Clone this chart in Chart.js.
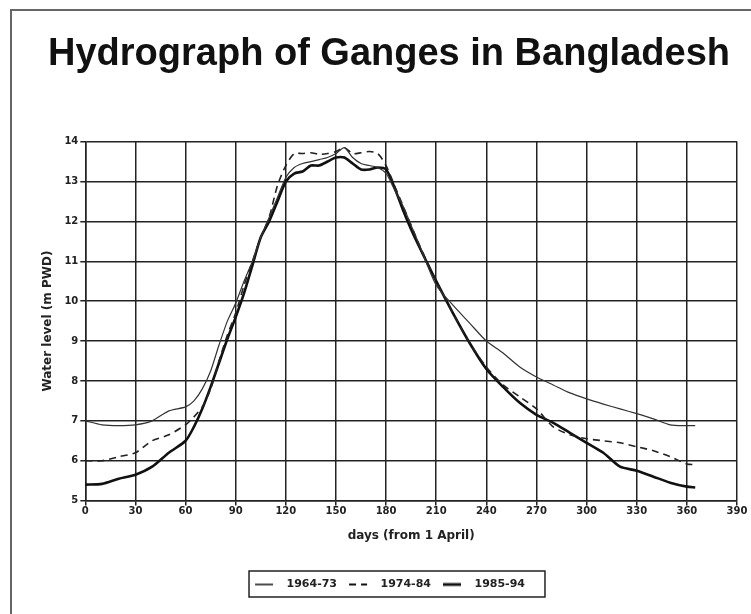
<!DOCTYPE html>
<html lang="en">
<head>
    <meta charset="UTF-8">
    <title>Hydrograph of Ganges in Bangladesh</title>
    <script src="https://cdn.jsdelivr.net/npm/chart.js"></script>
    <style>
        html, body {
            margin: 0;
            padding: 0;
            background: #fff;
            overflow: hidden;
        }
        #wrap {
            position: relative;
            width: 751px;
            height: 614px;
        }
        #frame {
            position: absolute;
            left: 10px;
            top: 9px;
            right: -10px;
            bottom: -10px;
            border-left: 2px solid #666;
            border-top: 2px solid #666;
        }
        #hydro {
            position: absolute;
            left: 0;
            top: 0;
        }
    </style>
</head>
<body>
<div id="wrap">
    <div id="frame"></div>
    <canvas id="hydro" width="751" height="614"></canvas>
</div>
<script>
    // days from 1 April
    const days = [0, 10, 20, 30, 40, 50, 60, 65, 70, 75, 80, 85, 90, 95, 100, 105, 110, 115, 120, 125,
        130, 135, 140, 145, 150, 155, 160, 165, 170, 175, 180, 185, 190, 195, 200, 210, 220, 230, 240,
        250, 260, 270, 280, 290, 300, 310, 320, 330, 340, 350, 360, 365];

    const level6473 = [7.0, 6.9, 6.88, 6.9, 7.0, 7.25, 7.35, 7.5, 7.8, 8.25, 8.9, 9.5, 9.95, 10.5, 11.0, 11.6,
        12.1, 12.6, 13.1, 13.35, 13.45, 13.5, 13.55, 13.6, 13.7, 13.85, 13.6, 13.45, 13.4, 13.35, 13.2,
        12.8, 12.4, 11.9, 11.4, 10.4, 9.9, 9.45, 9.0, 8.7, 8.35, 8.1, 7.9, 7.7, 7.55, 7.42, 7.3, 7.18,
        7.05, 6.9, 6.88, 6.88];

    const level7484 = [6.0, 6.0, 6.1, 6.2, 6.5, 6.65, 6.9, 7.1, 7.35, 7.8, 8.5, 9.15, 9.7, 10.4, 11.0, 11.6,
        12.1, 12.9, 13.4, 13.7, 13.7, 13.72, 13.68, 13.7, 13.75, 13.85, 13.7, 13.72, 13.75, 13.7, 13.4,
        12.9, 12.4, 11.9, 11.4, 10.5, 9.7, 8.95, 8.35, 7.9, 7.6, 7.3, 6.85, 6.65, 6.55, 6.5, 6.45, 6.35,
        6.25, 6.1, 5.92, 5.9];

    const level8594 = [5.4, 5.42, 5.55, 5.65, 5.85, 6.2, 6.5, 6.85, 7.3, 7.85, 8.45, 9.05, 9.6, 10.2, 10.9, 11.6,
        12.0, 12.5, 13.0, 13.2, 13.25, 13.4, 13.4, 13.5, 13.6, 13.6, 13.45, 13.3, 13.3, 13.35, 13.3,
        12.85, 12.3, 11.8, 11.35, 10.5, 9.7, 8.95, 8.3, 7.85, 7.45, 7.15, 6.95, 6.7, 6.45, 6.2, 5.85, 5.75,
        5.6, 5.45, 5.35, 5.33];

    const seriesNames = ['1964-73', '1974-84', '1985-94'];

    function pts(vals) {
        return days.map((d, i) => ({x: d, y: vals[i]}));
    }

    const tickFont = {family: 'DejaVu Sans', size: 10, weight: 'bold'};

    // legend sample: a short line on the left of a wider glyph, so the text sits further off
    function lineGlyph(ds) {
        const c = document.createElement('canvas');
        c.width = 28;
        c.height = 8;
        const g = c.getContext('2d');
        g.strokeStyle = '#111';
        g.lineWidth = ds.borderWidth + 0.3;
        g.setLineDash(ds.borderDash || []);
        g.beginPath();
        g.moveTo(2, 4);
        g.lineTo(20, 4);
        g.stroke();
        return c;
    }

    // box round the legend, as in the scanned figure
    const legendBox = {
        id: 'legendBox',
        afterDraw(chart) {
            const boxes = chart.legend.legendHitBoxes;
            if (!boxes || !boxes.length) return;
            const left = Math.min(...boxes.map(b => b.left)) - 4;
            const right = Math.max(...boxes.map(b => b.left + b.width)) + 20;
            const top = Math.min(...boxes.map(b => b.top)) - 8;
            const bottom = Math.max(...boxes.map(b => b.top + b.height)) + 7;
            const ctx = chart.ctx;
            ctx.save();
            ctx.strokeStyle = '#222';
            ctx.lineWidth = 1.5;
            ctx.strokeRect(left, top, right - left, bottom - top);
            ctx.restore();
        }
    };

    new Chart(document.getElementById('hydro'), {
        type: 'line',
        data: {
            datasets: [{
                label: seriesNames[0],
                data: pts(level6473),
                borderColor: '#333',
                borderWidth: 1.2,
                pointRadius: 0,
                tension: 0.25,
                fill: false
            }, {
                label: seriesNames[1],
                data: pts(level7484),
                borderColor: '#222',
                borderWidth: 1.6,
                borderDash: [7, 5],
                pointRadius: 0,
                tension: 0.25,
                fill: false
            }, {
                label: seriesNames[2],
                data: pts(level8594),
                borderColor: '#111',
                borderWidth: 2.6,
                pointRadius: 0,
                tension: 0.25,
                fill: false
            }]
        },
        options: {
            responsive: false,
            animation: false,
            layout: {
                padding: {left: 41, right: 14, top: 0, bottom: 14}
            },
            plugins: {
                title: {
                    display: true,
                    text: 'Hydrograph of Ganges in Bangladesh',
                    color: '#111',
                    font: {family: 'Liberation Sans', size: 38, weight: 'bold'},
                    padding: {top: 32, bottom: 64}
                },
                legend: {
                    position: 'bottom',
                    labels: {
                        color: '#222',
                        font: {family: 'DejaVu Sans', size: 11, weight: 'bold'},
                        usePointStyle: true,
                        pointStyleWidth: 28,
                        boxHeight: 8,
                        padding: 10,
                        generateLabels(chart) {
                            const items = Chart.defaults.plugins.legend.labels.generateLabels(chart);
                            items.forEach(it => {
                                it.pointStyle = lineGlyph(chart.data.datasets[it.datasetIndex]);
                            });
                            return items;
                        }
                    }
                },
                tooltip: {enabled: false}
            },
            scales: {
                x: {
                    type: 'linear',
                    min: 0,
                    max: 390,
                    ticks: {stepSize: 30, color: '#222', font: tickFont, padding: 0, maxRotation: 0},
                    grid: {color: '#222', lineWidth: 1.5, tickLength: 5},
                    border: {color: '#222', width: 1.5},
                    title: {
                        display: true,
                        text: 'days (from 1 April)',
                        color: '#222',
                        font: {family: 'DejaVu Sans', size: 12, weight: 'bold'},
                        padding: {top: 11, bottom: 26}
                    }
                },
                y: {
                    min: 5,
                    max: 14,
                    ticks: {stepSize: 1, color: '#222', font: tickFont, padding: 2},
                    grid: {color: '#222', lineWidth: 1.5, tickLength: 5},
                    border: {color: '#222', width: 1.5},
                    title: {
                        display: true,
                        text: 'Water level (m PWD)',
                        color: '#222',
                        font: {family: 'DejaVu Sans', size: 12, weight: 'bold'},
                        padding: {top: 0, bottom: 7}
                    }
                }
            }
        },
        plugins: [legendBox]
    });
</script>
</body>
</html>
